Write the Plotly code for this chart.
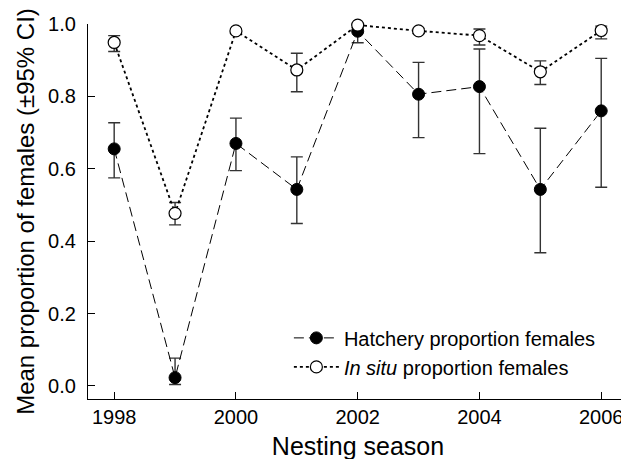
import plotly.graph_objects as go

FONT = "Liberation Sans, Arial, Helvetica, sans-serif"
INK = "#000000"
BAR = "#333333"

seasons = [1998, 1999, 2000, 2001, 2002, 2003, 2004, 2005, 2006]

# hatchery nests: mean proportion female and 95% CI bounds
hatch_mean = [0.655, 0.023, 0.670, 0.543, 0.980, 0.806, 0.827, 0.543, 0.760]
hatch_hi = [0.727, 0.077, 0.740, 0.633, 0.997, 0.894, 0.931, 0.712, 0.905]
hatch_lo = [0.575, 0.004, 0.595, 0.449, 0.948, 0.686, 0.642, 0.368, 0.549]

# in situ nests
insitu_mean = [0.949, 0.477, 0.981, 0.873, 0.997, 0.981, 0.968, 0.868, 0.982]
insitu_hi = [0.968, 0.507, 0.987, 0.919, 1.000, 0.988, 0.986, 0.898, 0.994]
insitu_lo = [0.924, 0.445, 0.976, 0.813, 0.990, 0.974, 0.942, 0.833, 0.959]


def err(mean, hi, lo):
    up = [h - m for h, m in zip(hi, mean)]
    down = [m - l for m, l in zip(mean, lo)]
    return dict(type="data", symmetric=False, array=up, arrayminus=down,
                color=BAR, thickness=1.4, width=6)


fig = go.Figure()
fig.add_trace(go.Scatter(
    x=seasons, y=hatch_mean, mode="lines+markers", name="Hatchery proportion females",
    line=dict(color=INK, width=1, dash="10px,5px"),
    marker=dict(size=12, color=INK, line=dict(color=INK, width=1)),
    error_y=err(hatch_mean, hatch_hi, hatch_lo), cliponaxis=False))
fig.add_trace(go.Scatter(
    x=seasons, y=insitu_mean, mode="lines+markers", name="<i>In situ</i> proportion females",
    line=dict(color=INK, width=1.8, dash="dot"),
    marker=dict(size=12, color="white", line=dict(color=INK, width=1.2)),
    error_y=err(insitu_mean, insitu_hi, insitu_lo), cliponaxis=False))

fig.update_xaxes(range=[1997.57, 2006.44], tickvals=[1998, 2000, 2002, 2004, 2006],
                 ticks="inside", ticklen=7, tickcolor=INK, showline=True, linecolor=INK,
                 linewidth=1.2, showgrid=False, zeroline=False, automargin=False,
                 tickfont=dict(size=20), title=dict(text="Nesting season", font=dict(size=25), standoff=10))
fig.update_yaxes(range=[-0.036, 1.0], tickvals=[0, 0.2, 0.4, 0.6, 0.8, 1.0], tickformat=".1f",
                 ticks="inside", ticklen=7, tickcolor=INK, showline=True, linecolor=INK,
                 linewidth=1.2, showgrid=False, zeroline=False, automargin=False,
                 tickfont=dict(size=20), ticklabelstandoff=7,
                 title=dict(text="Mean proportion of females (±95% CI)", font=dict(size=24), standoff=6))

# the page body adds an 8px offset, so margins are trimmed to land the plot area where the reference has it
fig.update_layout(
    width=629, height=459,
    margin=dict(l=80, r=9, t=16, b=68),
    paper_bgcolor="white", plot_bgcolor="white",
    font=dict(family=FONT, color=INK),
    legend=dict(x=0.372, y=0.215, xanchor="left", yanchor="top", bgcolor="rgba(0,0,0,0)",
                font=dict(size=20), itemwidth=45, tracegroupgap=0),
)

fig.write_html("out.html")
